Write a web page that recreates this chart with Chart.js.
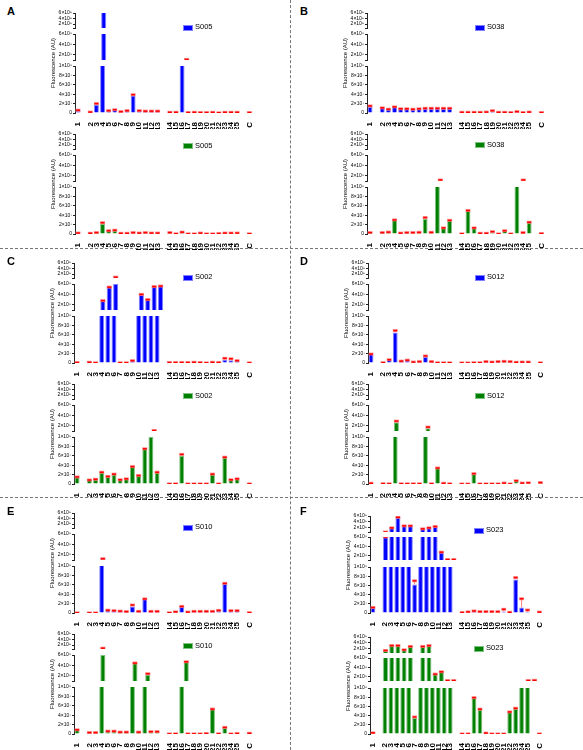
<!DOCTYPE html>
<html>
<head>
<meta charset="utf-8">
<script src="https://cdn.jsdelivr.net/npm/chart.js@4.4.1/dist/chart.umd.min.js"></script>
<style>
  body { margin: 0; background: #fff; font-family: 'Liberation Sans', Arial, sans-serif; }
  #fig { position: relative; width: 583px; height: 750px; overflow: hidden; }
  .panel { position: absolute; width: 292px; height: 250px; }
  .panel canvas { position: absolute; left: 0; }
  .letter { position: absolute; font-weight: bold; font-size: 11px; line-height: 11px; }
  .ytitle { position: absolute; font-size: 6px; white-space: nowrap; transform: translate(-50%, -50%) rotate(-90deg); }
  .legbox { position: absolute; width: 8px; height: 4px; }
  .legtxt { position: absolute; font-size: 7.5px; line-height: 8px; }
  .hline { position: absolute; left: 0; width: 583px; border-top: 1px dashed #777; }
  .vline { position: absolute; top: 0; height: 750px; border-left: 1px dashed #777; }
</style>
</head>
<body>
<div id="fig"></div>
<script>
// x categories ('' = spacer between groups)
const categories = ['1','','2','3','4','5','6','7','8','9','10','11','12','13','','14','15','16','17','18','19','20','21','22','23','24','25','','C']

// broken y axis: three segments
const topTicks = [6e8, 2e9, 4e9, 6e9]
const midTicks = [1e8, 2e8, 4e8, 6e8]
const botTicks = [0, 2e7, 4e7, 6e7, 8e7, 1e8]

// fluorescence values per sample (blue = first read, green = second read)
const s005Blue  = [4e6, null, 2e6, 1.7e7, 6.5e9, 5e6, 7e6, 3e6, 5e6, 3.7e7, 5e6, 4e6, 4e6, 4e6, null, 1.5e6, 1.5e6, 1.08e8, 1e6, 1.5e6, 1e6, 1e6, 1.5e6, 5e5, 1.5e6, 1.5e6, 1.5e6, null, 1e6]
const s005Green = [2e6, null, 1.5e6, 3e6, 2.2e7, 7e6, 8e6, 1.5e6, 1.5e6, 3e6, 2e6, 3e6, 2e6, 2e6, null, 3e6, 5e5, 4e6, 3e5, 3e5, 2e6, 3e5, 3e5, 1e6, 2e6, 2e6, 2e6, null, 5e5]
const s038Blue  = [1.3e7, null, 1.1e7, 8e6, 1.3e7, 9e6, 9e6, 8e6, 9e6, 1e7, 1e7, 1e7, 1e7, 1e7, null, 1.5e6, 1.5e6, 1.5e6, 1.5e6, 2e6, 3e6, 1.5e6, 1.5e6, 1e6, 3e6, 1e6, 2e6, null, 1e6]
const s038Green = [3e6, null, 3e6, 4e6, 3e7, 2e6, 3e6, 3e6, 3.5e6, 3.2e7, 3.5e6, 1.1e8, 1.3e7, 2.9e7, null, 5e5, 5e7, 1.3e7, 1.5e6, 1.5e6, 3e6, 3e5, 7e6, 3e5, 1.1e8, 3e6, 2.5e7, null, 1e6]
const s002Blue  = [1e6, null, 1.5e6, 5e5, 2.8e8, 5.4e8, 6e8, 5e5, 5e5, 5e6, 4e8, 3e8, 5.5e8, 5.6e8, null, 1e6, 1e6, 1e6, 1e6, 1.5e6, 1e6, 3e5, 1.5e6, 1e6, 7e6, 6e6, 5e6, null, 3e5]
const s002Green = [1.5e7, null, 8.5e6, 1e7, 2.5e7, 1.6e7, 2.1e7, 9e6, 1.1e7, 3.7e7, 1.8e7, 7.5e7, 1e8, 2.5e7, null, 3e5, 5e5, 6e7, 2e5, 3e5, 3e5, 3e5, 2.1e7, 3e5, 5.7e7, 9e6, 1.1e7, null, 3e5]
const s012Blue  = [1.9e7, null, 7e5, 7e6, 6.5e7, 4e6, 6e6, 2e6, 3e6, 1.3e7, 3e6, 5e5, 5e5, 5e5, null, 2e5, 2e5, 7e5, 7e5, 3e6, 2e6, 3e6, 3.5e6, 3e6, 1.5e6, 2e6, 2e6, null, 5e5]
const s012Green = [1.5e6, null, 7e5, 5e5, 2.7e8, 5e5, 5e5, 5e5, 5e5, 1.55e8, 5e5, 3.4e7, 1.5e6, 5e5, null, 1e5, 1e5, 2.2e7, 3e5, 3e5, 3e5, 3e5, 2e6, 1e5, 7e6, 2e6, 2.5e6, null, 3e6]
const s010Blue  = [5e5, null, 2e5, 2e5, 1.15e8, 6e6, 5e6, 4e6, 3e6, 1.4e7, 3.5e6, 3e7, 3.5e6, 3.5e6, null, 5e5, 2.5e6, 1.4e7, 2e6, 3.5e6, 3.5e6, 3.5e6, 3.5e6, 5.5e6, 6.3e7, 5e6, 5e6, null, 7e5]
const s010Green = [9e6, null, 3e6, 3e6, 6e8, 6e6, 6e6, 4e6, 4e6, 4.45e8, 4e6, 2.2e8, 5e6, 5e6, null, 2e5, 5e5, 4.7e8, 3e5, 3e5, 3e5, 1e6, 5.3e7, 5e5, 1.4e7, 2e5, 1e6, null, 1.5e6]
const s023Blue  = [1.2e7, null, 6e8, 2e9, 5.55e9, 2.67e9, 2.67e9, 6.2e7, 1.67e9, 2e9, 2.45e9, 2.7e8, 1.1e8, 1.1e8, null, 1e6, 2.5e6, 4.5e6, 3e6, 3e6, 3e6, 3e6, 3e6, 1.5e6, 7.3e7, 1.2e7, 2.5e6, null, 2e6]
const s023Green = [2.5e6, null, 1.45e9, 3.1e9, 3.1e9, 1.67e9, 2.8e9, 3.5e7, 2.8e9, 3.1e9, 2.5e8, 3e8, 1.1e8, 1.1e8, null, 2e5, 3e5, 7.9e7, 5.4e7, 2e6, 2e5, 2e5, 2e5, 4.8e7, 5.6e7, 1.1e8, 1.15e8, null, 2e5]

// error bars (only the visible ones), keyed by category
const errS005Blue  = {'1': 2e6, '3': 3e6, '9': 2e6, '16': 3e6}
const errS005Green = {'4': 2e6}
const errS038Blue  = {'1': 2e6, '19': 2e6}
const errS038Green = {'9': 3e6, '11': 1e7, '19': 2e6, '23': 1e7}
const errS002Blue  = {'6': 3e8, '23': 3e6, '24': 3e6}
const errS002Green = {'12': 1e7, '16': 3e6}
const errS012Blue  = {'4': 4e6, '9': 2e6}
const errS012Green = {'4': 2e7, '9': 2e7}
const errS010Blue  = {'4': 1e7, '9': 3e6}
const errS010Green = {'4': 3e8, '11': 2e7}
const errS023Blue  = {'7': 8e6, '21': 5e6, '23': 4e6, '24': 1.9e7, '25': 4e6}
const errS023Green = {'7': 2e6}

Chart.defaults.font.family = "'Liberation Sans', Arial, sans-serif"
Chart.defaults.color = '#000'

const BLUE = { fill: '#0000ff', edge: '#8080ff' }
const GREEN = { fill: '#008000', edge: '#80c080' }

const ranges = { top: [6e8, 6e9], mid: [1e8, 6e8], bot: [0, 1e8] }
const tickSets = { top: topTicks, mid: midTicks, bot: botTicks }

// segment geometry inside one sub-chart (y = top of plot area, h = height)
const GEO = { top: { y: 13, h: 15 }, mid: { y: 34, h: 26 }, bot: { y: 66, h: 47 } }
const GEO_F = { top: { y: 16, h: 16 }, mid: { y: 37, h: 23 }, bot: { y: 67, h: 46 } }
const SUB_DY = 121
const PAD = 6
const XH = 16

const panels = [
  { letter: 'A', sample: 'S005', x: 0,   y: 0,   axis: 75, right: 260, legX: 183, legY: [27, 145.5], blue: s005Blue, green: s005Green, errBlue: errS005Blue, errGreen: errS005Green },
  { letter: 'B', sample: 'S038', x: 290, y: 0,   axis: 77, right: 262, legX: 185, legY: [27, 144.5], blue: s038Blue, green: s038Green, errBlue: errS038Blue, errGreen: errS038Green },
  { letter: 'C', sample: 'S002', x: 0,   y: 250, axis: 74, right: 260, legX: 183, legY: [27, 145.5], blue: s002Blue, green: s002Green, errBlue: errS002Blue, errGreen: errS002Green },
  { letter: 'D', sample: 'S012', x: 290, y: 250, axis: 78, right: 261, legX: 185, legY: [27, 145.5], blue: s012Blue, green: s012Green, errBlue: errS012Blue, errGreen: errS012Green },
  { letter: 'E', sample: 'S010', x: 0,   y: 500, axis: 74, right: 260, legX: 183, legY: [27, 145.5], blue: s010Blue, green: s010Green, errBlue: errS010Blue, errGreen: errS010Green },
  { letter: 'F', sample: 'S023', x: 290, y: 500, axis: 80, right: 260, legX: 184, legY: [30, 148], blue: s023Blue, green: s023Green, errBlue: errS023Blue, errGreen: errS023Green, geo: GEO_F }
]

const SUP = '⁰¹²³⁴⁵⁶⁷⁸⁹'
const sci = (v) => {
  if (v === 0) return '0'
  const e = Math.floor(Math.log10(v) + 1e-9)
  const m = Math.round(v / Math.pow(10, e))
  return m + '×10' + String(e).split('').map(d => SUP[+d]).join('')
}

// red error bars drawn through the y scale; a cap shows only in the segment that holds it
const errorBars = {
  id: 'errorBars',
  afterDatasetsDraw(chart, args, opts) {
    const { ctx, chartArea: a } = chart
    const meta = chart.getDatasetMeta(0)
    const ys = chart.scales.y
    const vals = chart.data.datasets[0].data
    ctx.save()
    ctx.beginPath()
    ctx.rect(a.left, a.top, a.right - a.left, a.bottom - a.top)
    ctx.clip()
    meta.data.forEach((bar, i) => {
      const v = vals[i]
      if (v == null) return
      const e = opts.err[chart.data.labels[i]] || 0
      const y0 = ys.getPixelForValue(v)
      const y1 = ys.getPixelForValue(v + e)
      const w = bar.width * 0.8
      if (e) {
        ctx.strokeStyle = '#ff8080'
        ctx.lineWidth = 1
        ctx.beginPath()
        ctx.moveTo(bar.x, y0)
        ctx.lineTo(bar.x, y1)
        ctx.stroke()
      }
      if (v + e < ys.min || v + e > ys.max) return
      ctx.fillStyle = 'rgba(255,120,120,0.8)'
      ctx.fillRect(bar.x - w / 2 - 0.5, y1 - 1.5, w + 1, 3)
      ctx.fillStyle = '#ff0000'
      ctx.fillRect(bar.x - w / 2, y1 - 0.75, w, 1.5)
    })
    ctx.restore()
  }
}

const segChart = (host, p, subTop, segName, seg, values, err, col) => {
  const isBot = segName === 'bot'
  const c = document.createElement('canvas')
  c.width = p.right
  c.height = seg.h + PAD + (isBot ? XH : PAD)
  c.style.top = (subTop + seg.y - PAD) + 'px'
  host.appendChild(c)
  const [min, max] = ranges[segName]
  const ticks = tickSets[segName]
  return new Chart(c, {
    type: 'bar',
    data: {
      labels: categories,
      datasets: [{
        data: values,
        backgroundColor: col.fill,
        borderColor: col.edge,
        borderWidth: 1,
        borderSkipped: 'start',
        barPercentage: 0.8,
        categoryPercentage: 1,
        clip: 0
      }]
    },
    options: {
      responsive: false,
      animation: false,
      events: [],
      layout: { padding: { top: PAD, bottom: isBot ? 0 : PAD, left: 0, right: 0 } },
      plugins: {
        legend: { display: false },
        tooltip: { enabled: false },
        errorBars: { err: err }
      },
      scales: {
        x: {
          display: isBot,
          offset: true,
          grid: { display: false },
          border: { display: false },
          ticks: {
            autoSkip: false,
            maxRotation: 90,
            minRotation: 90,
            padding: 1,
            color: '#000',
            font: { size: 8, weight: 'bold' }
          },
          afterFit: (s) => { if (isBot) s.height = XH }
        },
        y: {
          min: min,
          max: max,
          afterBuildTicks: (s) => { s.ticks = ticks.map(v => ({ value: v })) },
          afterFit: (s) => { s.width = p.axis },
          ticks: {
            autoSkip: false,
            padding: 1,
            color: '#000',
            font: { size: 5 },
            callback: (v, i) => (!isBot && i === 0) ? '' : sci(v)
          },
          grid: { drawOnChartArea: false, tickLength: 2, color: '#222' },
          border: { color: '#222', width: 1 }
        }
      }
    },
    plugins: [errorBars]
  })
}

const fig = document.getElementById('fig')

panels.forEach(p => {
  const host = document.createElement('div')
  host.className = 'panel'
  host.style.left = p.x + 'px'
  host.style.top = p.y + 'px'
  fig.appendChild(host)

  const letter = document.createElement('div')
  letter.className = 'letter'
  letter.textContent = p.letter
  letter.style.left = (p.x === 0 ? 7 : 10) + 'px'
  letter.style.top = '6px'
  host.appendChild(letter)

  const geo = p.geo || GEO
  const subs = [
    { values: p.blue, err: p.errBlue, col: BLUE },
    { values: p.green, err: p.errGreen, col: GREEN }
  ]
  subs.forEach((s, k) => {
    const subTop = k * SUB_DY
    ;['top', 'mid', 'bot'].forEach(name => {
      segChart(host, p, subTop, name, geo[name], s.values, s.err, s.col)
    })

    const t = document.createElement('div')
    t.className = 'ytitle'
    t.textContent = 'Fluorescence (AU)'
    t.style.left = (p.axis - 22) + 'px'
    t.style.top = (subTop + (geo.top.y + geo.bot.y + geo.bot.h) / 2) + 'px'
    host.appendChild(t)

    const box = document.createElement('div')
    box.className = 'legbox'
    box.style.background = s.col.fill
    box.style.border = '0.5px solid ' + s.col.edge
    box.style.left = p.legX + 'px'
    box.style.top = (p.legY[k] - 2.5) + 'px'
    host.appendChild(box)

    const txt = document.createElement('div')
    txt.className = 'legtxt'
    txt.textContent = p.sample
    txt.style.left = (p.legX + 12) + 'px'
    txt.style.top = (p.legY[k] - 4) + 'px'
    host.appendChild(txt)
  })
})

// dashed panel dividers
const v = document.createElement('div')
v.className = 'vline'
v.style.left = '290px'
fig.appendChild(v)
;[248, 497].forEach(y => {
  const h = document.createElement('div')
  h.className = 'hline'
  h.style.top = y + 'px'
  fig.appendChild(h)
})
</script>
</body>
</html>
